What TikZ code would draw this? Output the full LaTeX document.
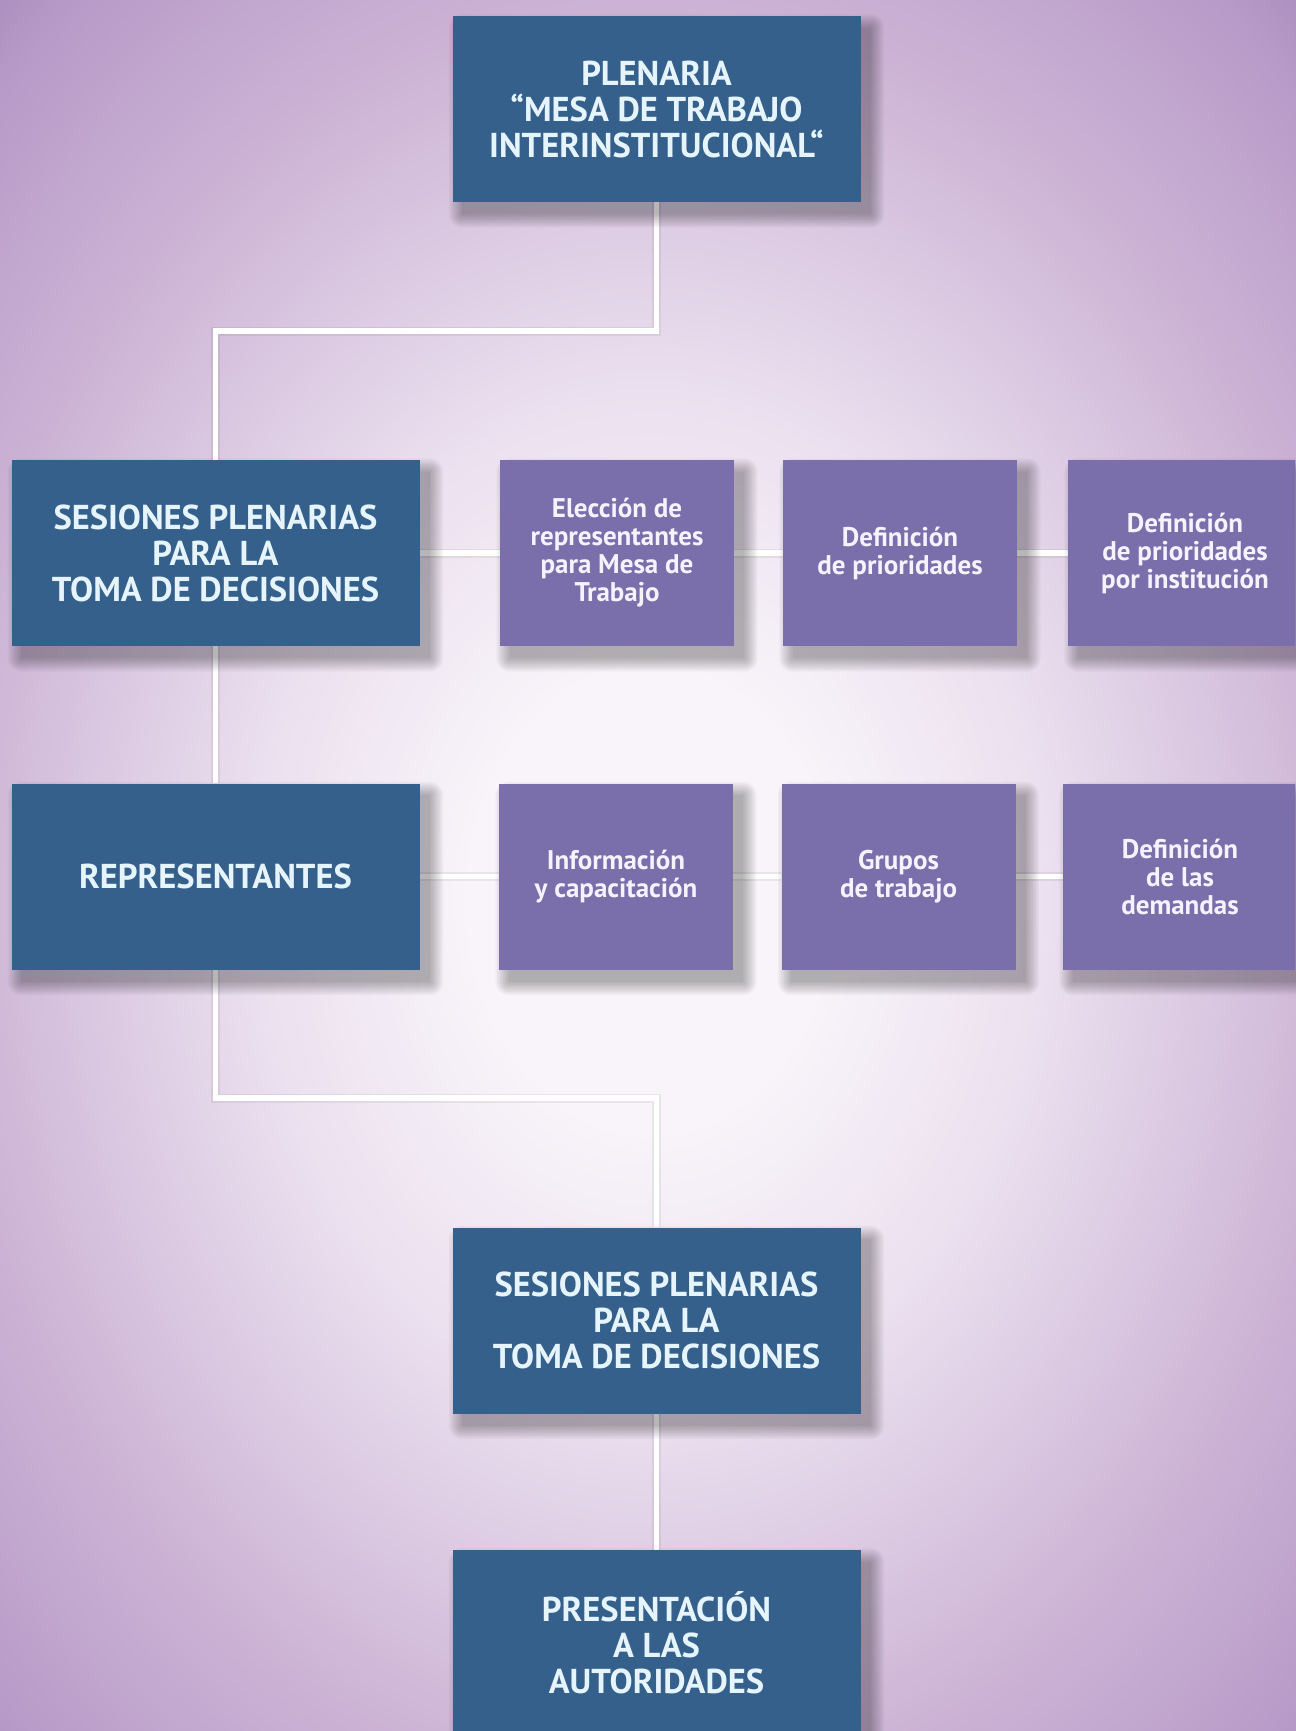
\documentclass[tikz,border=0pt]{standalone}
\usepackage{fontspec}
\setmainfont{PT Sans}
\definecolor{bluebox}{HTML}{34608B}
\definecolor{purplebox}{HTML}{7A6EAB}
\definecolor{txtblue}{HTML}{E6F4FD}
\definecolor{txtpurple}{HTML}{F6F2FF}
\definecolor{bgA}{HTML}{F8F4F9}
\definecolor{bgB}{HTML}{EBE0EF}
\definecolor{bgC}{HTML}{CDB5D6}
\definecolor{bgD}{HTML}{B89BC8}
\definecolor{bgE}{HTML}{A385B8}
\definecolor{bgF}{HTML}{9A7BB1}
\pgfdeclareradialshading{bgshade}{\pgfpoint{0bp}{0bp}}{color(0bp)=(bgA); color(10bp)=(bgA); color(22bp)=(bgB); color(38bp)=(bgC); color(50bp)=(bgD); color(56bp)=(bgE); color(72bp)=(bgF)}
\pgfdeclarelayer{bg}
\pgfdeclarelayer{shadowlayer}
\pgfsetlayers{bg,shadowlayer,main}
\tikzset{
  bluebox/.style={fill=bluebox, text=txtblue, align=center, inner sep=0pt,
    minimum width=408pt, minimum height=186pt,
    font=\bfseries\fontsize{34.5}{36}\selectfont},
  purplebox/.style={fill=purplebox, text=txtpurple, align=center, inner sep=0pt,
    minimum width=234pt, minimum height=186pt,
    font=\bfseries\fontsize{27}{28}\selectfont},
  conn/.style={draw=white, line width=5.5pt},
  connshadow/.style={draw=black, line width=9pt, opacity=0.06, shift={(4pt,-7pt)}},
  shadowstep/.style={fill=black, opacity=0.032}
}
\begin{document}
\begin{tikzpicture}[x=1pt,y=-1pt]
\useasboundingbox (0,0) rectangle (1295,1731);
\clip (0,0) rectangle (1295,1731);
% nodes
\node[bluebox] (top) at (656.5,109) {PLENARIA\\“MESA DE TRABAJO\\INTERINSTITUCIONAL“};
\node[bluebox] (s1) at (215.5,553) {SESIONES PLENARIAS\\PARA LA\\TOMA DE DECISIONES};
\node[bluebox] (r1) at (215.5,876.5) {REPRESENTANTES};
\node[purplebox] (e1) at (617,553) {Elección de\\representantes\\para Mesa de\\Trabajo};
\node[purplebox] (d1) at (900,553) {Definición\\de prioridades};
\node[purplebox] (p1) at (1185,553) {Definición\\de prioridades\\por institución};
\node[purplebox] (i2) at (616,876.5) {Información\\y capacitación};
\node[purplebox] (g2) at (898.5,876.5) {Grupos\\de trabajo};
\node[purplebox] (dd2) at (1180,876.5) {Definición\\de las\\demandas};
\node[bluebox] (b1) at (656.5,1320.5) {SESIONES PLENARIAS\\PARA LA\\TOMA DE DECISIONES};
\node[bluebox] (b2) at (656.5,1643) {PRESENTACIÓN\\A LAS\\AUTORIDADES};
\coordinate (k1) at (656.5,331);
\coordinate (k2) at (215.5,1098);
\begin{pgfonlayer}{bg}
  \begin{scope}[transform canvas={shift={(650,900)}, xscale=18, yscale=23}]
    \pgftext{\pgfuseshading{bgshade}}
  \end{scope}
  \foreach \s in {connshadow,conn}{
    \draw[\s] (top.south) -- (k1) -| (s1.north);
    \draw[\s] (s1.south) -- (r1.north);
    \draw[\s] (r1.south) -- (k2) -| (b1.north);
    \draw[\s] (b1.south) -- (b2.north);
    \draw[\s] (s1.east) -- (e1.west);
    \draw[\s] (e1.east) -- (d1.west);
    \draw[\s] (d1.east) -- (p1.west);
    \draw[\s] (r1.east) -- (i2.west);
    \draw[\s] (i2.east) -- (g2.west);
    \draw[\s] (g2.east) -- (dd2.west);
  }
\end{pgfonlayer}
\begin{pgfonlayer}{shadowlayer}
  \foreach \n in {top,s1,r1,e1,d1,p1,i2,g2,dd2,b1,b2}{
    \foreach \k in {0,1.5,...,13.5}{
      \fill[shadowstep, rounded corners=\k pt]
        ([xshift={10pt-\k pt}, yshift={-12pt+\k pt}]\n.north west)
        rectangle ([xshift={10pt+\k pt}, yshift={-12pt-\k pt}]\n.south east);
    }
  }
\end{pgfonlayer}
\end{tikzpicture}
\end{document}
